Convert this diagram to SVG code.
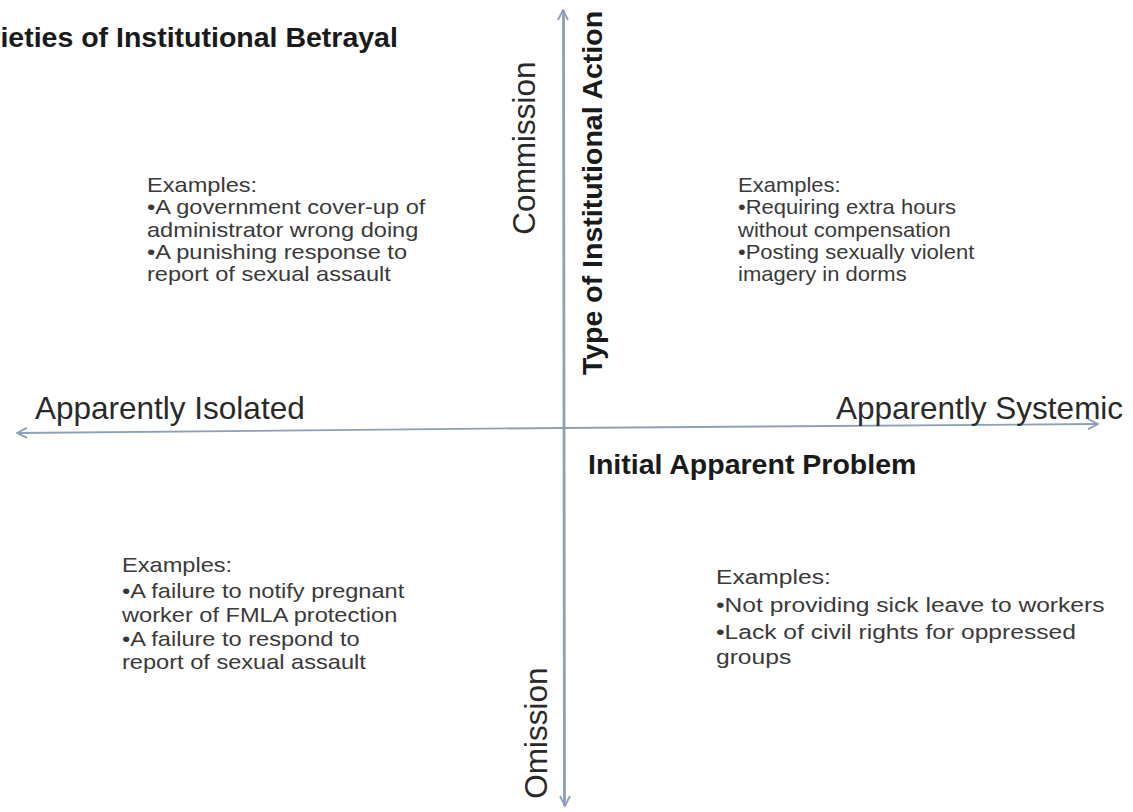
<svg xmlns="http://www.w3.org/2000/svg" width="1133" height="812" viewBox="0 0 1133 812">
  <defs>
    <style>
      .title { font-family: "Liberation Sans", Arial, sans-serif; font-weight: bold; font-size: 28.5px; fill: #1a1a1a; }
      .axis-title { font-family: "Liberation Sans", Arial, sans-serif; font-weight: bold; font-size: 28.5px; fill: #1a1a1a; }
      .pole { font-family: "Liberation Sans", Arial, sans-serif; font-size: 31.5px; fill: #2a2a2a; }
      .ex { font-family: "Liberation Sans", Arial, sans-serif; font-size: 20px; fill: #3a3a3a; }
      .axis { stroke: #8da0b6; stroke-width: 1.8; fill: none; }
    </style>
    <marker id="head" viewBox="0 0 12 12" refX="11" refY="6" markerWidth="12" markerHeight="12" markerUnits="userSpaceOnUse" orient="auto">
      <path d="M1,1 L11,6 L1,11" fill="none" stroke="#8da0b6" stroke-width="1.8"/>
    </marker>
  </defs>
  <rect width="1133" height="812" fill="#ffffff"/>

  <text class="title" x="-44" y="47">Varieties of Institutional Betrayal</text>

  <g id="connectors">
    <line class="axis" x1="564" y1="806" x2="563" y2="10" marker-end="url(#head)"/>
    <line class="axis" x1="564" y1="10" x2="565" y2="806" marker-end="url(#head)"/>
    <line class="axis" x1="560" y1="428" x2="17" y2="433" marker-end="url(#head)"/>
    <line class="axis" x1="560" y1="428" x2="1098" y2="424" marker-end="url(#head)"/>
  </g>

  <g id="axis-labels">
    <text class="pole" transform="translate(535,148) rotate(-90)" text-anchor="middle" font-size="31">Commission</text>
    <text class="pole" transform="translate(547,733) rotate(-90)" text-anchor="middle" font-size="27">Omission</text>
    <text class="axis-title" transform="translate(602,193) rotate(-90)" text-anchor="middle">Type of Institutional Action</text>
    <text class="pole" x="35" y="419">Apparently Isolated</text>
    <text class="pole" x="836" y="419">Apparently Systemic</text>
    <text class="axis-title" x="588" y="474">Initial Apparent Problem</text>
  </g>

  <g id="quadrant-isolated-commission" transform="translate(147,0) scale(1.18,1)">
    <text class="ex" x="0" y="192">Examples:</text>
    <text class="ex" x="0" y="214">•A government cover-up of</text>
    <text class="ex" x="0" y="237">administrator wrong doing</text>
    <text class="ex" x="0" y="259">•A punishing response to</text>
    <text class="ex" x="0" y="281">report of sexual assault</text>
  </g>

  <g id="quadrant-systemic-commission" transform="translate(738,0) scale(1.1,1)">
    <text class="ex" x="0" y="192">Examples:</text>
    <text class="ex" x="0" y="214">•Requiring extra hours</text>
    <text class="ex" x="0" y="237">without compensation</text>
    <text class="ex" x="0" y="259">•Posting sexually violent</text>
    <text class="ex" x="0" y="281">imagery in dorms</text>
  </g>

  <g id="quadrant-isolated-omission" transform="translate(122,0) scale(1.18,1)">
    <text class="ex" x="0" y="572">Examples:</text>
    <text class="ex" x="0" y="598">•A failure to notify pregnant</text>
    <text class="ex" x="0" y="622">worker of FMLA protection</text>
    <text class="ex" x="0" y="646">•A failure to respond to</text>
    <text class="ex" x="0" y="669">report of sexual assault</text>
  </g>

  <g id="quadrant-systemic-omission" transform="translate(716,0) scale(1.23,1)">
    <text class="ex" x="0" y="584" font-size="20.5">Examples:</text>
    <text class="ex" x="0" y="612" font-size="20.5">•Not providing sick leave to workers</text>
    <text class="ex" x="0" y="639" font-size="20.5">•Lack of civil rights for oppressed</text>
    <text class="ex" x="0" y="664" font-size="20.5">groups</text>
  </g>
</svg>
